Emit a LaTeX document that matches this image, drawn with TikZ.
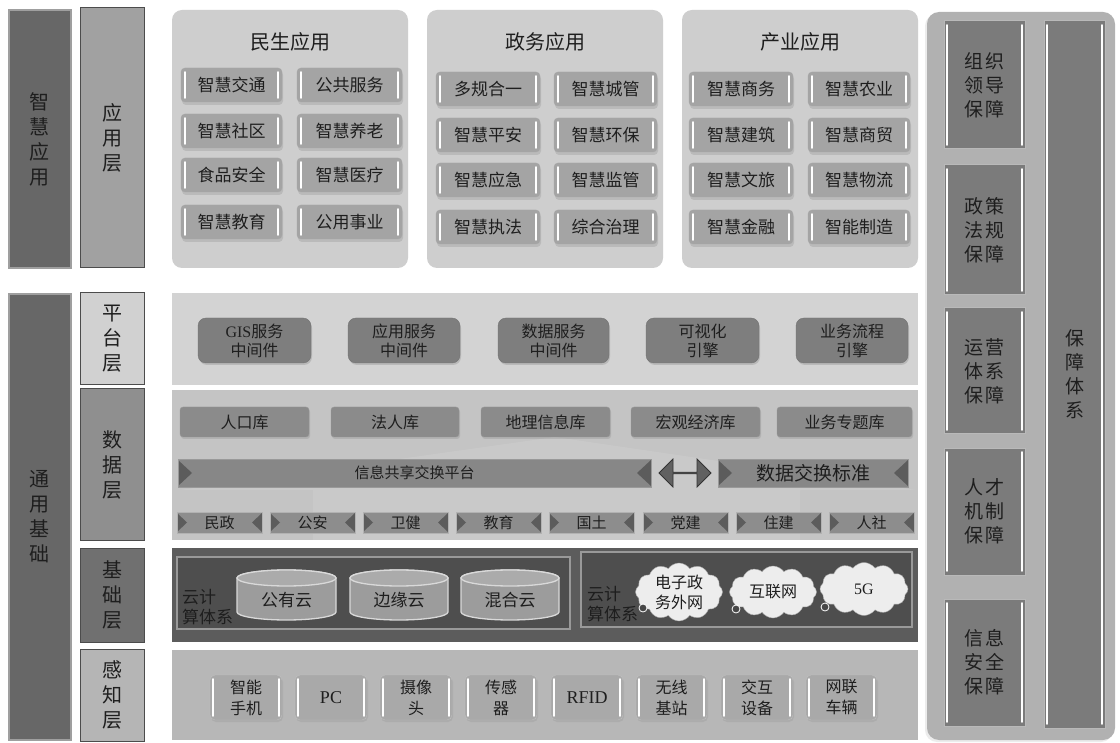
\documentclass[tikz,border=0pt]{standalone}
\usepackage{fontspec}
\setmainfont{Noto Sans CJK SC}
\newfontfamily\tnr{Liberation Serif}
\usetikzlibrary{shapes.geometric,shapes.symbols,shapes.arrows,shadows,calc}
\definecolor{txt}{HTML}{1E1E1E}
\definecolor{colA}{HTML}{676767}
\definecolor{colB}{HTML}{A1A1A1}
\definecolor{panelc}{HTML}{CECECE}
\definecolor{itemc}{HTML}{A4A4A4}
\definecolor{platband}{HTML}{D3D3D3}
\definecolor{platbox}{HTML}{7E7E7E}
\definecolor{databand}{HTML}{C4C4C4}
\definecolor{dbbox}{HTML}{8B8B8B}
\definecolor{barc}{HTML}{878787}
\definecolor{bardark}{HTML}{5C5C5C}
\definecolor{baseband}{HTML}{5C5C5C}
\definecolor{baseinner}{HTML}{4E4E4E}
\definecolor{cylc}{HTML}{9C9C9C}
\definecolor{sensband}{HTML}{B7B7B7}
\definecolor{sensitem}{HTML}{A9A9A9}
\definecolor{rpanel}{HTML}{B1B1B1}
\definecolor{rbox}{HTML}{7B7B7B}
\newcommand{\fsz}[2]{\fontsize{#1}{#2}\selectfont}
\newcommand{\bx}[7]{\node[#6, minimum width={#4-#2}, minimum height={#5-#3}] (#1) at ({(#2+#4)/2},{(#3+#5)/2}) {#7};}
\newcommand{\cyln}[6]{%
  \pgfmathsetmacro{\cxa}{(#2+#4)/2}%
  \pgfmathsetmacro{\rxa}{(#4-#2)/2}%
  \fill[cylc, draw=white!85!black, line width=1.3pt] (#2,#3+8) -- (#2,#5-8) arc[start angle=180,end angle=360,x radius=\rxa pt,y radius=8pt] -- (#4,#3+8) arc[start angle=0,end angle=180,x radius=\rxa pt,y radius=8pt] -- cycle;
  \draw[fill=cylc!85!white, draw=white!85!black, line width=1.3pt] (\cxa,#3+8) ellipse [x radius=\rxa pt, y radius=8pt];
  \node[txt, font=\fsz{17}{20}] (#1) at (\cxa,{(#3+#5)/2+5}) {#6};}
\tikzset{
  base/.style={inner sep=0pt, outer sep=0pt, text=txt, align=center},
  hl/.style={path picture={
    \draw[white, line width=1.8pt, line cap=round]
      ([xshift=#1,yshift=-4pt]path picture bounding box.north west) --
      ([xshift=#1,yshift=4pt]path picture bounding box.south west)
      ([xshift=-#1,yshift=-4pt]path picture bounding box.north east) --
      ([xshift=-#1,yshift=4pt]path picture bounding box.south east);}},
  hl/.default=4pt,
  tri/.style={path picture={
    \fill[bardark] ([yshift=-1pt]path picture bounding box.north west) -- ([xshift=#1]path picture bounding box.west) -- ([yshift=1pt]path picture bounding box.south west) -- cycle;
    \fill[bardark] ([yshift=-1pt]path picture bounding box.north east) -- ([xshift=-#1]path picture bounding box.east) -- ([yshift=1pt]path picture bounding box.south east) -- cycle;}},
  lcol/.style={base, fill=colA, draw=gray!75, line width=2pt, font=\fsz{20}{25}},
  lbox/.style={base, draw=black!70, line width=1pt, font=\fsz{20}{25}},
  panel/.style={base, fill=panelc, rounded corners=10pt},
  ptitle/.style={base, font=\fsz{20}{24}},
  appitem/.style={base, fill=itemc, draw=black!35, rounded corners=4pt, font=\fsz{17}{20},
    drop shadow={shadow xshift=1pt, shadow yshift=-3pt, opacity=0.25}, hl},
  band/.style={base},
  platb/.style={base, fill=platbox, draw=black!55, rounded corners=8pt, font=\fsz{16}{19},
    drop shadow={shadow xshift=1pt, shadow yshift=-2pt, opacity=0.3}},
  dbb/.style={base, fill=dbbox, draw=black!40, rounded corners=3pt, font=\fsz{16}{19},
    drop shadow={shadow xshift=1pt, shadow yshift=-2pt, opacity=0.25}},
  barb/.style={base, fill=barc, draw=black!40, tri=14pt, font=\fsz{15}{18}},
  tagb/.style={base, fill=barc!95!white, draw=black!30, tri=10pt, font=\fsz{15}{18}},
  inner/.style={base, fill=baseinner, draw=gray!80, line width=1.5pt},
  cloudn/.style={base, cloud, cloud puffs=12, cloud puff arc=110, aspect=1.6, fill=white!93!black, draw=gray!70, font=\fsz{16}{20}},
  sensb/.style={base, fill=sensitem, draw=black!25, rounded corners=5pt, font=\fsz{16}{21},
    drop shadow={shadow xshift=1pt, shadow yshift=-2pt, opacity=0.2}, hl=3pt},
  rbx/.style={base, fill=rbox, draw=gray!55, line width=1pt, font=\fsz{19}{24}, hl=3pt},
  bubble/.style={fill=black!72, draw=white, line width=0.8pt},
}
\begin{document}
\begin{tikzpicture}[x=1pt,y=-1pt]
\fill[white] (0,0) rectangle (1120,743);
\useasboundingbox (0,0) rectangle (1120,743);

% left columns
\bx{zhyy}{9}{10}{71}{268}{lcol}{智\\慧\\应\\用}
\bx{yyc}{80}{8}{144}{268}{lbox, fill=colB}{应\\用\\层}
\bx{tyjc}{9}{294}{71}{740}{lcol}{通\\用\\基\\础}
\bx{ptc}{80}{293}{144}{385}{lbox, fill=black!18}{平\\台\\层}
\bx{sjc}{80}{389}{144}{540}{lbox, fill=black!44}{数\\据\\层}
\bx{jcc}{80}{548}{144}{642}{lbox, fill=black!56}{基\\础\\层}
\bx{gzc}{80}{649}{144}{741}{lbox, fill=black!29}{感\\知\\层}

% application panels
\bx{ms}{172}{10}{408}{268}{panel}{}
\bx{zw}{427}{10}{663}{268}{panel}{}
\bx{cy}{682}{10}{918}{268}{panel}{}
\node[ptitle] (mst) at (290,42) {民生应用};
\node[ptitle] (zwt) at (545,42) {政务应用};
\node[ptitle] (cyt) at (800,42) {产业应用};

\bx{a1}{181}{68}{282}{102}{appitem}{智慧交通}
\bx{a2}{297}{68}{402}{102}{appitem}{公共服务}
\bx{a3}{181}{114}{282}{148}{appitem}{智慧社区}
\bx{a4}{297}{114}{402}{148}{appitem}{智慧养老}
\bx{a5}{181}{158}{282}{192}{appitem}{食品安全}
\bx{a6}{297}{158}{402}{192}{appitem}{智慧医疗}
\bx{a7}{181}{205}{282}{239}{appitem}{智慧教育}
\bx{a8}{297}{205}{402}{239}{appitem}{公用事业}

\bx{b1}{436}{72}{540}{106}{appitem}{多规合一}
\bx{b2}{554}{72}{657}{106}{appitem}{智慧城管}
\bx{b3}{436}{118}{540}{152}{appitem}{智慧平安}
\bx{b4}{554}{118}{657}{152}{appitem}{智慧环保}
\bx{b5}{436}{163}{540}{197}{appitem}{智慧应急}
\bx{b6}{554}{163}{657}{197}{appitem}{智慧监管}
\bx{b7}{436}{210}{540}{244}{appitem}{智慧执法}
\bx{b8}{554}{210}{657}{244}{appitem}{综合治理}

\bx{c1}{689}{72}{793}{106}{appitem}{智慧商务}
\bx{c2}{808}{72}{910}{106}{appitem}{智慧农业}
\bx{c3}{689}{118}{793}{152}{appitem}{智慧建筑}
\bx{c4}{808}{118}{910}{152}{appitem}{智慧商贸}
\bx{c5}{689}{163}{793}{197}{appitem}{智慧文旅}
\bx{c6}{808}{163}{910}{197}{appitem}{智慧物流}
\bx{c7}{689}{210}{793}{244}{appitem}{智慧金融}
\bx{c8}{808}{210}{910}{244}{appitem}{智能制造}

% platform layer
\bx{plat}{172}{293}{918}{385}{band, fill=platband}{}
\bx{p1}{198}{318}{311}{363}{platb}{{\tnr GIS}服务\\中间件}
\bx{p2}{348}{318}{460}{363}{platb}{应用服务\\中间件}
\bx{p3}{498}{318}{609}{363}{platb}{数据服务\\中间件}
\bx{p4}{646}{318}{759}{363}{platb}{可视化\\引擎}
\bx{p5}{796}{318}{908}{363}{platb}{业务流程\\引擎}

% data layer
\bx{data}{172}{390}{918}{540}{band, fill=databand}{}
\fill[white, opacity=0.09] (313,540) -- (313,490) -- (180,490) -- (555,437) -- (916,490) -- (800,490) -- (800,540) -- cycle;
\bx{d1}{180}{407}{309}{437}{dbb}{人口库}
\bx{d2}{331}{407}{459}{437}{dbb}{法人库}
\bx{d3}{481}{407}{610}{437}{dbb}{地理信息库}
\bx{d4}{631}{407}{760}{437}{dbb}{宏观经济库}
\bx{d5}{777}{407}{912}{437}{dbb}{业务专题库}
\bx{xxgx}{178}{459}{651}{487}{barb}{信息共享交换平台}
\bx{sjbz}{718}{459}{908}{487}{barb, font=\fsz{19}{22}}{数据交换标准}
\node[double arrow, fill=black!62, draw=black!80, line width=0.8pt, minimum height=52pt, minimum width=28pt, double arrow head extend=7pt, inner sep=0pt, outer sep=0pt] (dx) at (685,473) {};
\bx{t1}{177}{512}{262}{533}{tagb}{民政}
\bx{t2}{270}{512}{355}{533}{tagb}{公安}
\bx{t3}{363}{512}{448}{533}{tagb}{卫健}
\bx{t4}{456}{512}{541}{533}{tagb}{教育}
\bx{t5}{549}{512}{634}{533}{tagb}{国土}
\bx{t6}{643}{512}{728}{533}{tagb}{党建}
\bx{t7}{736}{512}{821}{533}{tagb}{住建}
\bx{t8}{829}{512}{914}{533}{tagb}{人社}

% base layer
\bx{basel}{172}{548}{918}{642}{band, fill=baseband}{}
\bx{inl}{177}{557}{570}{629}{inner}{}
\bx{inr}{581}{552}{912}{627}{inner}{}
\cyln{y1}{237}{570}{336}{620}{公有云}
\cyln{y2}{350}{570}{448}{620}{边缘云}
\cyln{y3}{461}{570}{559}{620}{混合云}
\node[base, anchor=west, align=left, font=\fsz{17}{20}] (ljs) at (182,607) {云计\\算体系};
\node[cloudn, minimum width=87pt, minimum height=56pt] (w1) at (679,592) {电子政\\务外网};
\node[cloudn, minimum width=87pt, minimum height=52pt] (w2) at (773,592) {互联网};
\node[cloudn, minimum width=88pt, minimum height=53pt] (w3) at (864,589) {\tnr 5G};
\node[base, anchor=west, align=left, font=\fsz{17}{20}] (rjs) at (587,604) {云计\\算体系};
\filldraw[bubble] (643,608) circle (4pt);
\filldraw[bubble] (736,609) circle (4pt);
\filldraw[bubble] (825,607) circle (4pt);

% sensing layer
\bx{sens}{172}{650}{918}{740}{band, fill=sensband}{}
\bx{s1}{210}{675}{282}{720}{sensb}{智能\\手机}
\bx{s2}{295}{675}{367}{720}{sensb, font=\tnr\fsz{18}{21}}{PC}
\bx{s3}{380}{675}{452}{720}{sensb}{摄像\\头}
\bx{s4}{465}{675}{537}{720}{sensb}{传感\\器}
\bx{s5}{551}{675}{623}{720}{sensb, font=\tnr\fsz{18}{21}}{RFID}
\bx{s6}{636}{675}{707}{720}{sensb}{无线\\基站}
\bx{s7}{721}{675}{793}{720}{sensb}{交互\\设备}
\bx{s8}{806}{675}{877}{720}{sensb}{网联\\车辆}

% right column
\bx{rp}{927}{12}{1115}{740}{base, fill=rpanel, rounded corners=12pt, drop shadow={shadow xshift=-2pt, shadow yshift=-2pt, opacity=0.15}}{}
\bx{r1}{944}{21}{1025}{149}{rbx}{组\hspace{3pt}织\\领\hspace{3pt}导\\保\hspace{3pt}障}
\bx{r2}{944}{165}{1025}{295}{rbx}{政\hspace{3pt}策\\法\hspace{3pt}规\\保\hspace{3pt}障}
\bx{r3}{944}{308}{1025}{434}{rbx}{运\hspace{3pt}营\\体\hspace{3pt}系\\保\hspace{3pt}障}
\bx{r4}{944}{448}{1025}{575}{rbx}{人\hspace{3pt}才\\机\hspace{3pt}制\\保\hspace{3pt}障}
\bx{r5}{944}{599}{1025}{726}{rbx}{信\hspace{3pt}息\\安\hspace{3pt}全\\保\hspace{3pt}障}
\bx{bztx}{1044}{21}{1105}{728}{rbx}{保\\障\\体\\系}
\end{tikzpicture}
\end{document}
